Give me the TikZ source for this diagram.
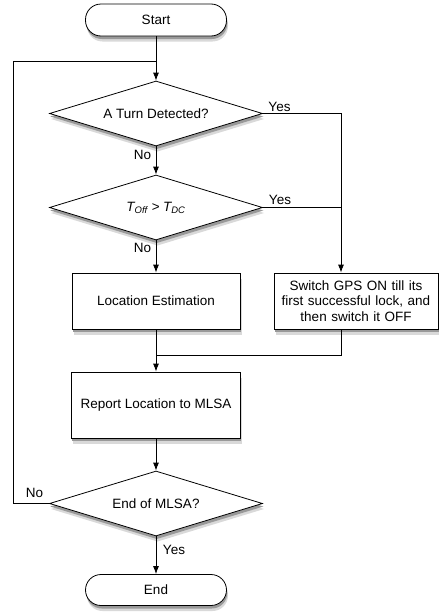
\documentclass[tikz,border=0pt]{standalone}
\usepackage{fontspec}
\setmainfont{Liberation Sans}
\usetikzlibrary{shapes.geometric,arrows.meta,calc}
\begin{document}
\begin{tikzpicture}[x=1pt,y=-1pt,
  every node/.style={font=\fontsize{13.5}{15.5}\selectfont},
  term/.style={draw,fill=white,rounded corners=15.5pt,minimum width=141pt,minimum height=32pt,inner sep=0pt,line width=0.8pt},
  proc/.style={draw,fill=white,minimum height=56pt,inner sep=0pt,line width=0.8pt,align=center},
  dec/.style={draw,fill=white,diamond,aspect=3.28,minimum width=213pt,minimum height=65pt,inner sep=0pt,line width=0.8pt},
  lbl/.style={inner sep=0pt},
  conn/.style={line width=0.8pt},
  arr/.style={conn,-{Latex[length=8pt,width=6pt]}},
  shA/.style={fill=black!15},
  shB/.style={fill=black!40}]
\useasboundingbox (0,0) rectangle (439,616);
% shadows (drawn first, under the shapes)
\fill[shA] (73.5,278.5) rectangle (241.5,334.5);
\fill[shB] (72.8,276) rectangle (240.8,332);
\fill[shA] (275.5,278.5) rectangle (439,334.5);
\fill[shB] (274.8,276) rectangle (439,332);
\fill[shA] (73,377.5) rectangle (242,443.5);
\fill[shB] (72.3,375) rectangle (241.3,441);
\foreach \cy in {113.5,207.5,503.5} {
  \fill[shA] (157.5,\cy-27) -- (264,\cy+5.5) -- (157.5,\cy+38) -- (51,\cy+5.5) -- cycle;
  \fill[shB] (156.8,\cy-29.5) -- (263.3,\cy+3) -- (156.8,\cy+35.5) -- (50.3,\cy+3) -- cycle;
}
\fill[shA,rounded corners=15.5pt] (87,9.5) rectangle (228,41.5);
\fill[shB,rounded corners=15.5pt] (86.3,7) rectangle (227.3,39);
\fill[shA,rounded corners=15.5pt] (87,580) rectangle (228,611);
\fill[shB,rounded corners=15.5pt] (86.3,577.5) rectangle (227.3,608.5);
% shapes
\node[term] (start) at (156,20) {Start};
\node[dec] (d1) at (156,113.5) {A Turn Detected?};
\node[dec] (d2) at (156,207.5) {\itshape T\textsubscript{Off} > T\textsubscript{DC}};
\node[proc,minimum width=168pt] (loc) at (156,301) {Location Estimation};
\node[proc,minimum width=164pt,text width=160pt] (gps) at (356,301) {Switch GPS ON till its\\first successful lock, and\\then switch it OFF};
\node[proc,minimum width=169pt,minimum height=66pt] (rep) at (156,405) {Report Location to MLSA};
\node[dec] (d3) at (156,503.5) {End of MLSA?};
\node[term,minimum height=31pt] (end) at (156,590) {End};
\coordinate (rx) at (341,0);
\coordinate (lj) at (156,61);
\coordinate (lc) at (13,61);
\coordinate (m) at (156,355);
\draw[arr] (start) -- (d1);
\draw[arr] (d1) -- (d2);
\draw[arr] (d2) -- (loc);
\draw[arr] (d1.east) -| (rx |- gps.north);
\draw[conn] (d2.east) -- (d2.east -| rx);
\draw[conn] (loc.south) -- (m);
\draw[conn] (rx |- gps.south) |- (m);
\draw[arr] (m) -- (rep);
\draw[arr] (rep) -- (d3);
\draw[arr] (d3) -- (end);
\draw[conn] (d3.west) -| (lc) -- (lj);
\node[lbl] (y1) at (279.5,107) {Yes};
\node[lbl] (n1) at (142.5,155) {No};
\node[lbl] (y2) at (280,200) {Yes};
\node[lbl] (n2) at (142.5,248) {No};
\node[lbl] (n3) at (34.5,493) {No};
\node[lbl] (y3) at (174,550) {Yes};
\end{tikzpicture}
\end{document}
